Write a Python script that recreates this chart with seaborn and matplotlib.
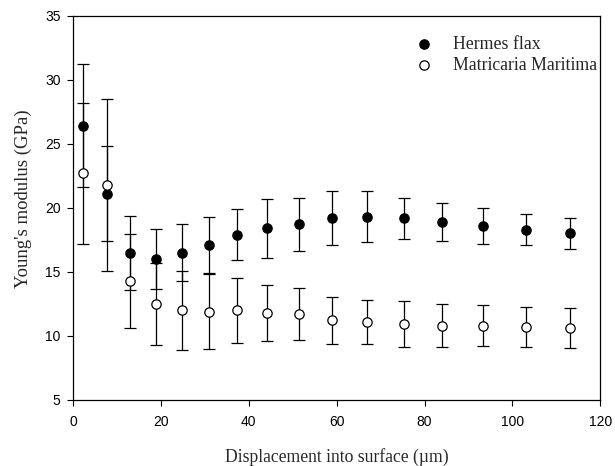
import numpy as np
import pandas as pd
import matplotlib
matplotlib.use("Agg")
import matplotlib.pyplot as plt
import seaborn as sns

# displacement into surface (um), shared by both series
depth = [2.3, 7.7, 13.0, 18.8, 24.7, 30.9, 37.3, 44.1,
         51.5, 58.9, 66.9, 75.4, 83.9, 93.4, 103.0, 113.1]

hermes = [26.4, 21.1, 16.5, 16.0, 16.5, 17.1, 17.9, 18.4,
          18.7, 19.2, 19.3, 19.2, 18.9, 18.6, 18.3, 18.0]
hermes_err = [4.8, 3.7, 2.9, 2.35, 2.2, 2.2, 2.0, 2.3,
              2.1, 2.1, 2.0, 1.6, 1.5, 1.4, 1.2, 1.2]

matricaria = [22.7, 21.8, 14.3, 12.5, 12.0, 11.9, 12.0, 11.8,
              11.7, 11.2, 11.1, 10.9, 10.8, 10.8, 10.7, 10.6]
matricaria_err = [5.5, 6.7, 3.65, 3.2, 3.1, 2.9, 2.55, 2.2,
                  2.0, 1.8, 1.7, 1.8, 1.7, 1.6, 1.55, 1.55]

df = pd.concat([
    pd.DataFrame({"depth": depth, "E": hermes, "err": hermes_err,
                  "sample": "Hermes flax"}),
    pd.DataFrame({"depth": depth, "E": matricaria, "err": matricaria_err,
                  "sample": "Matricaria Maritima"}),
])

sns.set_style("ticks")
plt.rcParams["font.family"] = ["Liberation Sans", "DejaVu Sans"]
serif = ["Liberation Serif", "DejaVu Serif"]

fig, ax = plt.subplots(figsize=(6.15, 4.66), dpi=100)
fig.subplots_adjust(left=0.119, right=0.976, top=0.966, bottom=0.142)

faces = {"Hermes flax": "black", "Matricaria Maritima": "white"}
for name, sub in df.groupby("sample", sort=False):
    ax.errorbar(sub["depth"], sub["E"], yerr=sub["err"], fmt="none",
                ecolor="black", elinewidth=0.9, capsize=4, capthick=0.9,
                zorder=2)
    sns.scatterplot(data=sub, x="depth", y="E", ax=ax, s=45,
                    color=faces[name], edgecolor="black", linewidth=0.9,
                    label=name, zorder=3)

ax.set_xlim(0, 120)
ax.set_ylim(5, 35)
ax.set_xticks(range(0, 121, 20))
ax.set_yticks(range(5, 36, 5))
ax.tick_params(direction="out", length=4, width=0.8, labelsize=10,
               colors="black")
ax.tick_params(axis="x", pad=7)
ax.tick_params(axis="y", pad=5)
for s in ax.spines.values():
    s.set_visible(True)
    s.set_linewidth(0.9)
    s.set_color("black")

ax.set_xlabel("Displacement into surface (\u00b5m)", family=serif,
              fontsize=12.7, labelpad=14)
ax.set_ylabel("Young's modulus (GPa)", family=serif, fontsize=13.5)
ax.yaxis.set_label_coords(-0.079, 0.523)

ax.legend(loc="upper right", bbox_to_anchor=(1.0, 0.958), frameon=False,
          prop={"family": serif, "size": 12.8}, handletextpad=0.6,
          labelspacing=0.25, borderaxespad=0, borderpad=0.2)

fig.savefig("out.png", dpi=100)
